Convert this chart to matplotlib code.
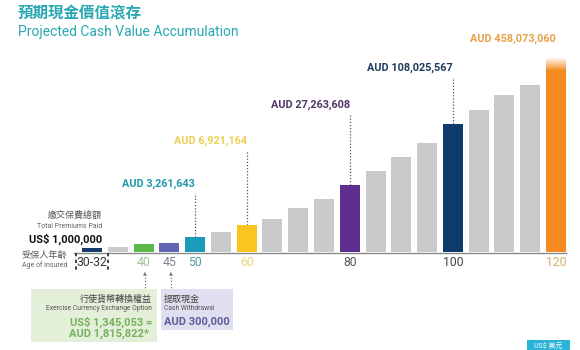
import numpy as np
import matplotlib.pyplot as plt

plt.rcParams['font.family'] = ['Roboto', 'Noto Sans CJK TC', 'DejaVu Sans']

# bar heights (schematic in pixel units above baseline)
ages = ['30-32', '35', '40', '45', '50', '55', '60', '65', '70', '75',
        '80', '85', '90', '95', '100', '105', '110', '115', '120']
heights = [4, 5, 8, 9, 15, 20, 27, 33, 44, 53,
           67, 81, 95, 109, 128, 142, 157, 167, 195]

GRAY = '#c9cacc'
bar_colors = {0: '#163a6b', 2: '#5cb848', 3: '#6366b0', 4: '#1a9bbb',
              6: '#f8c61e', 10: '#5e2e91', 14: '#0f3b6c', 18: '#f6891f'}

# ages shown under the axis and their colours
tick_idx = [2, 3, 4, 6, 10, 14, 18]
tick_colors = ['#9fc28f', '#7d7f93', '#4e9ea9', '#ead57f', '#555555', '#444444', '#d2a96a']

# value call-outs: bar index, text, colour, label level
callouts = [(4, 'AUD 3,261,643', '#1f9aaa', 68),
            (6, 'AUD 6,921,164', '#ecd052', 111),
            (10, 'AUD 27,263,608', '#4d3768', 147),
            (14, 'AUD 108,025,567', '#1d3c5e', 184),
            (18, 'AUD 458,073,060', '#e6a049', 213)]

W, H = 580, 350
fig = plt.figure(figsize=(W / 100, H / 100), dpi=100)


def fx(x):
    return x / W


def fy(y):
    return 1 - y / H


# bar axes: bar 0 centre at x=92px, bar 18 at 556px, baseline y=252px
step = (556 - 92) / 18
ax = fig.add_axes([fx(92 - step / 2), fy(252), 19 * step / W, 200 / H])
x = np.arange(len(ages))
colors = [bar_colors.get(i, GRAY) for i in x]
bars = ax.bar(x, heights, width=20 / step, color=colors, zorder=2)

# white fade at the top of the last bar
last = bars[-1]
fade = np.zeros((40, 1, 4))
fade[..., :3] = 1
fade[..., 3] = np.linspace(1, 0, 40).reshape(-1, 1)
top = heights[-1]
ax.imshow(fade, extent=[last.get_x(), last.get_x() + last.get_width(), top - 14, top],
          aspect='auto', zorder=3, origin='upper')
ax.set_xlim(-0.5, 18.5)
ax.set_ylim(0, 200)
ax.axis('off')

# baseline
fig.add_artist(plt.Line2D([fx(74), fx(566)], [fy(252.5), fy(252.5)],
                          color='#8a8a8a', lw=1))

# tick labels
for i, c in zip(tick_idx, tick_colors):
    ax.text(i, -10, ages[i], ha='center', va='center', color=c, fontsize=8.8,
            clip_on=False)
ax.text(0, -10, ages[0], ha='center', va='center', color='#333333', fontsize=8.8,
        clip_on=False)
for xx in (76, 108):
    fig.add_artist(plt.Line2D([fx(xx), fx(xx)], [fy(253), fy(272)],
                              color='#222222', lw=1.2, ls=(0, (2, 2))))

# call-outs
for i, txt, c, lvl in callouts:
    ax.text(i, lvl, txt, ha='right', va='center', color=c, fontsize=7.8,
            fontweight='bold', clip_on=False)
    if i != 18:
        ax.plot([i, i], [heights[i], lvl - 9], color='#555555', lw=0.9,
                ls=(0, (1, 1.5)), zorder=1, clip_on=False)

# title
fig.text(fx(18), fy(14), '預期現金價值滾存', color='#29a7b3', fontsize=11.2,
         fontweight='bold', ha='left', va='center')
fig.text(fx(18), fy(32), 'Projected Cash Value Accumulation', color='#29a7b3',
         fontsize=10, ha='left', va='center')

# left block
fig.text(fx(102), fy(215), '繳交保費總額', color='#555555', fontsize=6.5,
         ha='right', va='center')
fig.text(fx(102), fy(226), 'Total Premiums Paid', color='#666666', fontsize=5,
         ha='right', va='center')
fig.text(fx(102), fy(239), 'US$ 1,000,000', color='#111111', fontsize=8,
         fontweight='bold', ha='right', va='center')
fig.text(fx(67), fy(255), '受保人年齡', color='#555555', fontsize=6.6,
         ha='right', va='center')
fig.text(fx(67), fy(265), 'Age of Insured', color='#666666', fontsize=5,
         ha='right', va='center')

# arrows to the option boxes
for xx in (145, 171):
    fig.add_artist(plt.Line2D([fx(xx), fx(xx)], [fy(274), fy(289)],
                              color='#777777', lw=0.9, ls=(0, (1, 1.5))))
    fig.text(fx(xx), fy(273), '▲', color='#777777', fontsize=3.5,
             ha='center', va='center', family='DejaVu Sans')

# green box
fig.add_artist(plt.Rectangle((fx(31), fy(342)), fx(157 - 31), (342 - 289) / H,
                             facecolor='#e3efd8', edgecolor='none'))
fig.text(fx(152), fy(299), '行使貨幣轉換權益', color='#444444', fontsize=6.5,
         ha='right', va='center')
fig.text(fx(152), fy(309), 'Exercise Currency Exchange Option', color='#555555',
         fontsize=4.9, ha='right', va='center')
fig.text(fx(152), fy(322), 'US$ 1,345,053 =', color='#75b25e', fontsize=8,
         fontweight='bold', ha='right', va='center')
fig.text(fx(149), fy(334), 'AUD 1,815,822*', color='#75b25e', fontsize=8,
         fontweight='bold', ha='right', va='center')

# purple box
fig.add_artist(plt.Rectangle((fx(161), fy(330)), fx(233 - 161), (330 - 289) / H,
                             facecolor='#dfdff0', edgecolor='none'))
fig.text(fx(164), fy(299), '提取現金', color='#444444', fontsize=6.5,
         ha='left', va='center')
fig.text(fx(164), fy(309), 'Cash Withdrawal', color='#555555', fontsize=4.9,
         ha='left', va='center')
fig.text(fx(164), fy(322), 'AUD 300,000', color='#5b5f98', fontsize=8,
         fontweight='bold', ha='left', va='center')

# currency tag at bottom right
fig.add_artist(plt.Rectangle((fx(527), fy(352)), fx(570 - 527), 12 / H,
                             facecolor='#29b3d9', edgecolor='none'))
fig.text(fx(548), fy(346), 'US$ 美元', color='white', fontsize=5,
         ha='center', va='center')

fig.savefig('out.png', dpi=100)
